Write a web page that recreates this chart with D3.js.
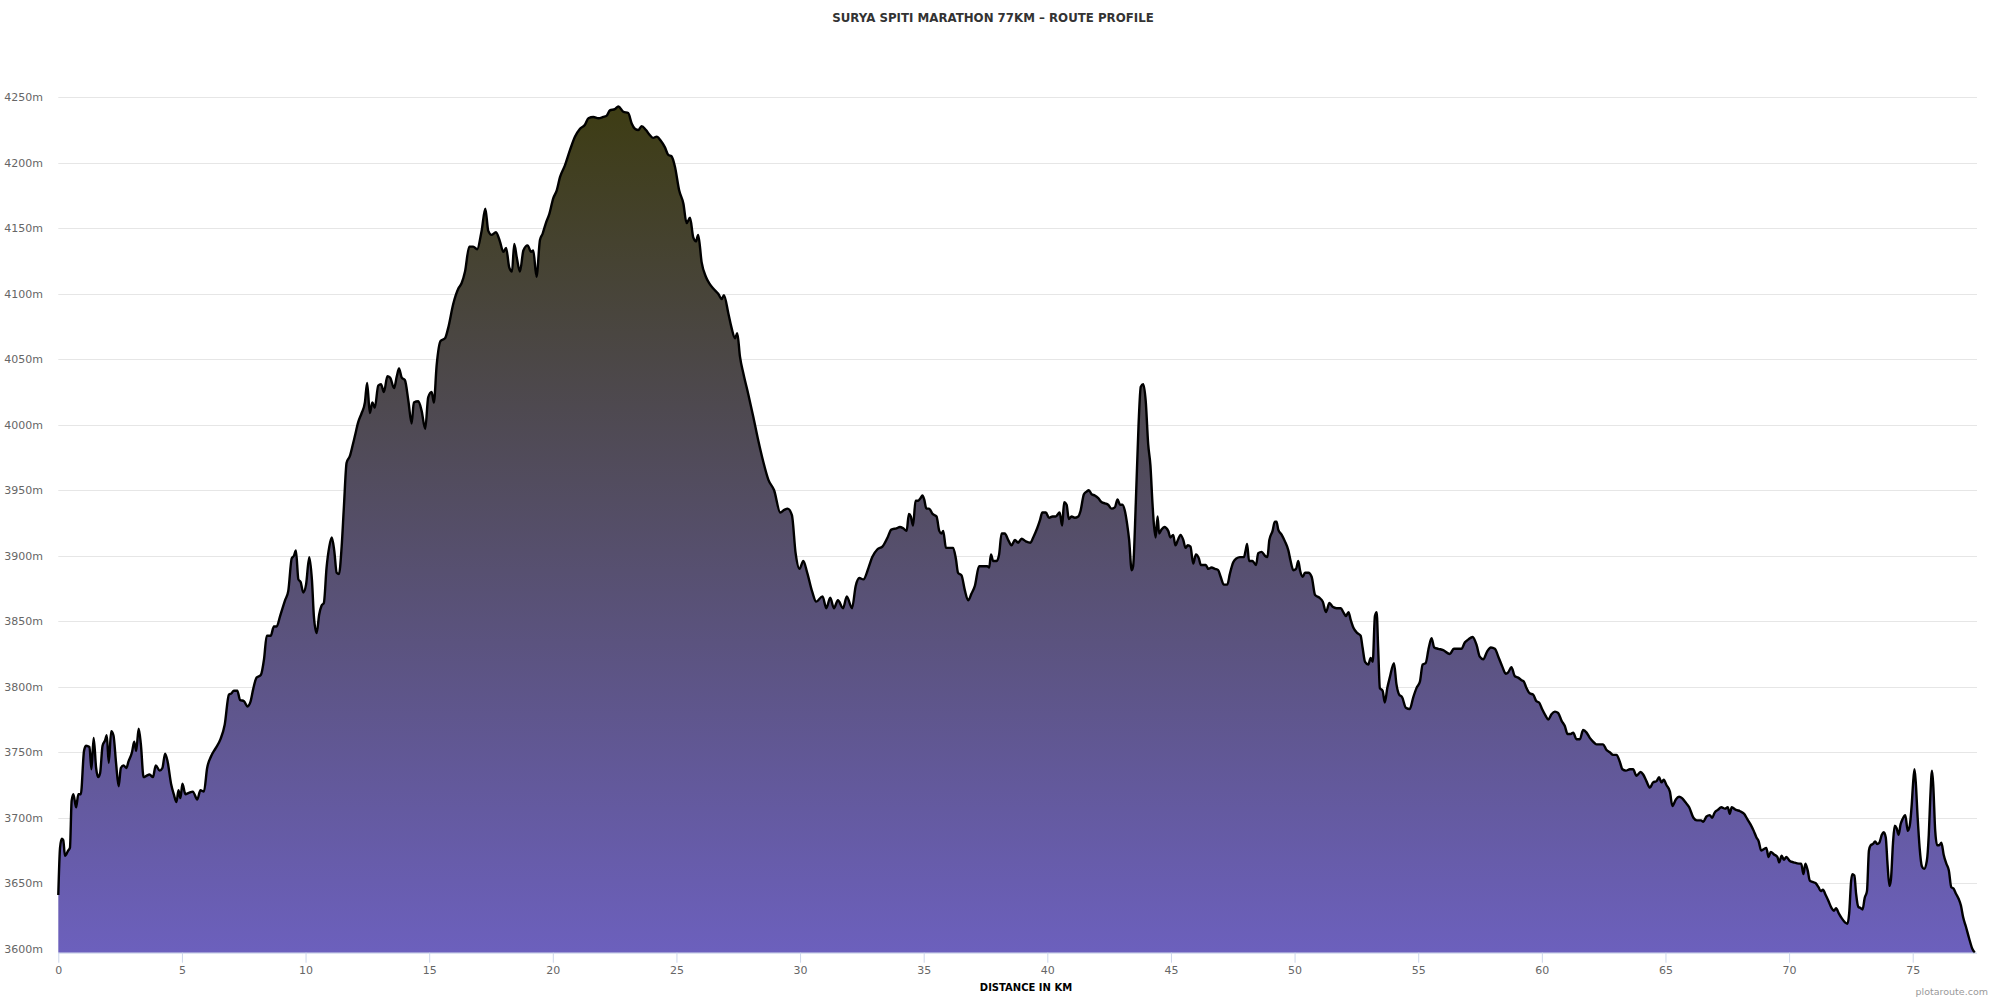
<!DOCTYPE html>
<html>
<head>
    <meta charset="utf-8">
    <style>
        body { margin: 0; background: #fff; }
        text { font-family: 'DejaVu Sans', sans-serif; }
    </style>
</head>
<body>
    <div id="chart"></div>
    <script src="https://cdn.jsdelivr.net/npm/d3@7"></script>
    <script>
        // route profile: distance (km) and elevation (m)
        var dist_km = [
            0, 0.07, 0.14, 0.2, 0.27, 0.4, 0.47, 0.54, 0.61, 0.72, 0.81, 0.91, 1.04, 1.12, 1.26, 1.34, 1.43, 1.53, 1.61, 1.69,
            1.79, 1.89, 1.96, 2.04, 2.14, 2.23, 2.34, 2.44, 2.53, 2.64, 2.75, 2.84, 2.98, 3.07, 3.15, 3.25, 3.34, 3.45, 3.56, 3.69,
            3.83, 3.94, 4.1, 4.21, 4.32, 4.42, 4.56, 4.67, 4.78, 4.86, 4.94, 5.02, 5.14, 5.28, 5.44, 5.62, 5.75, 5.89, 6.02, 6.18,
            6.36, 6.56, 6.73, 6.9, 7.0, 7.1, 7.24, 7.35, 7.51, 7.65, 7.78, 7.88, 8.02, 8.19, 8.32, 8.43, 8.59, 8.72, 8.83, 8.97,
            9.17, 9.3, 9.44, 9.53, 9.61, 9.71, 9.8, 9.91, 10.02, 10.15, 10.26, 10.34, 10.45, 10.55, 10.65, 10.74, 10.85, 10.96, 11.06, 11.16,
            11.26, 11.35, 11.46, 11.55, 11.66, 11.79, 11.9, 11.99, 12.13, 12.27, 12.4, 12.49, 12.6, 12.7, 12.8, 12.94, 13.05, 13.17, 13.31, 13.42,
            13.58, 13.69, 13.78, 13.89, 14.02, 14.16, 14.29, 14.38, 14.56, 14.69, 14.84, 14.96, 15.1, 15.19, 15.3, 15.46, 15.64, 15.77, 15.97, 16.18,
            16.31, 16.45, 16.62, 16.78, 16.94, 17.12, 17.27, 17.39, 17.52, 17.7, 17.86, 18.0, 18.11, 18.24, 18.35, 18.44, 18.54, 18.67, 18.81, 18.98,
            19.12, 19.21, 19.34, 19.48, 19.59, 19.72, 19.86, 20.02, 20.16, 20.29, 20.49, 20.7, 20.9, 21.1, 21.3, 21.44, 21.64, 21.84, 22.04, 22.18,
            22.31, 22.51, 22.65, 22.85, 23.05, 23.19, 23.32, 23.46, 23.59, 23.77, 23.93, 24.06, 24.2, 24.36, 24.53, 24.67, 24.8, 24.94, 25.11, 25.28,
            25.41, 25.55, 25.68, 25.79, 25.88, 26.02, 26.19, 26.33, 26.49, 26.69, 26.83, 26.92, 27.1, 27.23, 27.37, 27.46, 27.57, 27.71, 27.91, 28.11,
            28.31, 28.51, 28.72, 28.95, 29.2, 29.36, 29.5, 29.67, 29.82, 29.98, 30.13, 30.29, 30.5, 30.65, 30.91, 31.06, 31.22, 31.37, 31.53, 31.74,
            31.89, 32.1, 32.25, 32.4, 32.56, 32.77, 32.92, 33.13, 33.33, 33.54, 33.69, 33.9, 34.04, 34.17, 34.31, 34.4, 34.48, 34.57, 34.67, 34.78,
            34.87, 34.95, 35.02, 35.11, 35.22, 35.36, 35.52, 35.63, 35.72, 35.79, 35.9, 36.03, 36.19, 36.3, 36.39, 36.53, 36.66, 36.8, 36.93, 37.07,
            37.24, 37.41, 37.57, 37.65, 37.72, 37.81, 37.95, 38.05, 38.15, 38.28, 38.42, 38.55, 38.69, 38.82, 38.96, 39.13, 39.32, 39.43, 39.59, 39.7,
            39.8, 39.94, 40.07, 40.21, 40.34, 40.5, 40.6, 40.68, 40.78, 40.87, 40.98, 41.11, 41.25, 41.34, 41.48, 41.59, 41.68, 41.79, 41.92, 42.06,
            42.19, 42.33, 42.46, 42.6, 42.73, 42.84, 42.94, 43.04, 43.14, 43.23, 43.31, 43.41, 43.47, 43.58, 43.69, 43.78, 43.88, 43.98, 44.08, 44.17,
            44.25, 44.31, 44.38, 44.46, 44.52, 44.62, 44.73, 44.89, 44.98, 45.09, 45.18, 45.28, 45.39, 45.5, 45.59, 45.68, 45.79, 45.9, 46.01, 46.13,
            46.21, 46.3, 46.41, 46.51, 46.64, 46.78, 46.91, 47.01, 47.14, 47.28, 47.38, 47.52, 47.65, 47.79, 47.95, 48.02, 48.08, 48.16, 48.3, 48.44,
            48.53, 48.67, 48.8, 48.9, 48.98, 49.11, 49.2, 49.27, 49.34, 49.48, 49.61, 49.75, 49.84, 49.95, 50.06, 50.15, 50.22, 50.33, 50.42, 50.56,
            50.69, 50.83, 51.0, 51.14, 51.27, 51.41, 51.54, 51.7, 51.87, 51.97, 52.08, 52.18, 52.27, 52.38, 52.54, 52.67, 52.75, 52.85, 52.98, 53.08,
            53.16, 53.25, 53.32, 53.38, 53.45, 53.56, 53.65, 53.75, 53.85, 54.02, 54.12, 54.23, 54.35, 54.5, 54.66, 54.8, 54.93, 55.07, 55.18, 55.3,
            55.43, 55.54, 55.65, 55.81, 56.01, 56.28, 56.44, 56.62, 56.75, 56.89, 57.02, 57.2, 57.36, 57.49, 57.63, 57.79, 57.94, 58.1, 58.26, 58.41,
            58.54, 58.64, 58.77, 58.91, 59.04, 59.18, 59.27, 59.38, 59.51, 59.65, 59.78, 59.89, 60.01, 60.15, 60.26, 60.39, 60.53, 60.66, 60.8, 60.93,
            61.04, 61.17, 61.27, 61.4, 61.54, 61.67, 61.81, 61.94, 62.08, 62.21, 62.35, 62.48, 62.61, 62.75, 62.88, 63.02, 63.15, 63.26, 63.4, 63.56,
            63.69, 63.83, 63.99, 64.1, 64.23, 64.37, 64.5, 64.64, 64.74, 64.84, 64.93, 65.04, 65.18, 65.28, 65.42, 65.55, 65.67, 65.8, 65.96, 66.13,
            66.27, 66.44, 66.53, 66.66, 66.79, 66.89, 66.99, 67.12, 67.26, 67.41, 67.52, 67.6, 67.68, 67.85, 68.02, 68.18, 68.31, 68.44, 68.57, 68.68,
            68.77, 68.87, 68.97, 69.08, 69.17, 69.26, 69.39, 69.53, 69.6, 69.7, 69.79, 69.89, 70.03, 70.18, 70.4, 70.49, 70.58, 70.66, 70.75, 70.84,
            70.95, 71.08, 71.19, 71.28, 71.37, 71.48, 71.58, 71.72, 71.81, 71.9, 72.01, 72.14, 72.27, 72.36, 72.43, 72.51, 72.56, 72.64, 72.71, 72.8,
            72.9, 72.97, 73.06, 73.15, 73.23, 73.3, 73.39, 73.48, 73.56, 73.65, 73.75, 73.83, 73.91, 73.98, 74.06, 74.12, 74.2, 74.27, 74.35, 74.43,
            74.51, 74.59, 74.7, 74.8, 74.88, 74.96, 75.01, 75.07, 75.12, 75.2, 75.28, 75.37, 75.46, 75.57, 75.65, 75.71, 75.78, 75.83, 75.91, 75.99,
            76.07, 76.16, 76.25, 76.36, 76.46, 76.56, 76.65, 76.75, 76.86, 76.95, 77.04, 77.15, 77.28, 77.41, 77.51
        ];

        var elev_m = [
            3641, 3677, 3684, 3683, 3671, 3675, 3677, 3713, 3718, 3708, 3718, 3718, 3751, 3755, 3754, 3737, 3761, 3738, 3731, 3734,
            3755, 3759, 3763, 3742, 3766, 3763, 3741, 3724, 3738, 3740, 3738, 3743, 3750, 3758, 3751, 3768, 3756, 3731, 3732, 3733,
            3731, 3740, 3736, 3738, 3749, 3743, 3726, 3718, 3712, 3721, 3715, 3726, 3718, 3719, 3720, 3714, 3721, 3720, 3738, 3747,
            3753, 3760, 3771, 3794, 3795, 3797, 3797, 3790, 3789, 3785, 3789, 3798, 3807, 3809, 3821, 3839, 3839, 3846, 3846, 3854,
            3866, 3873, 3898, 3900, 3904, 3882, 3880, 3872, 3878, 3899, 3881, 3853, 3841, 3855, 3862, 3864, 3891, 3907, 3914, 3904,
            3887, 3886, 3907, 3937, 3971, 3976, 3984, 3991, 4002, 4009, 4017, 4032, 4009, 4017, 4013, 4030, 4031, 4025, 4037, 4036,
            4028, 4037, 4043, 4036, 4034, 4018, 4001, 4017, 4018, 4011, 3997, 4021, 4025, 4017, 4045, 4064, 4066, 4074, 4092, 4104,
            4108, 4117, 4136, 4136, 4134, 4148, 4165, 4148, 4145, 4147, 4140, 4132, 4135, 4120, 4117, 4138, 4128, 4117, 4133, 4137,
            4132, 4133, 4113, 4141, 4146, 4154, 4161, 4173, 4179, 4189, 4198, 4210, 4220, 4226, 4229, 4234, 4235, 4234, 4235, 4236,
            4240, 4241, 4243, 4239, 4238, 4230, 4226, 4225, 4228, 4225, 4221, 4219, 4220, 4217, 4212, 4206, 4205, 4197, 4179, 4169,
            4154, 4158, 4143, 4140, 4145, 4124, 4113, 4108, 4104, 4100, 4096, 4099, 4085, 4074, 4066, 4070, 4052, 4039, 4023, 4006,
            3988, 3972, 3958, 3950, 3933, 3935, 3936, 3931, 3902, 3890, 3896, 3887, 3872, 3865, 3869, 3860, 3868, 3860, 3866, 3860,
            3869, 3860, 3877, 3883, 3882, 3891, 3899, 3905, 3907, 3914, 3920, 3921, 3922, 3921, 3919, 3932, 3930, 3923, 3942, 3942,
            3944, 3946, 3943, 3936, 3936, 3932, 3930, 3919, 3917, 3919, 3906, 3906, 3906, 3898, 3887, 3885, 3874, 3866, 3871, 3877,
            3892, 3892, 3892, 3891, 3901, 3896, 3896, 3901, 3917, 3917, 3912, 3908, 3912, 3910, 3913, 3911, 3910, 3914, 3921, 3927,
            3933, 3933, 3929, 3930, 3930, 3933, 3923, 3941, 3939, 3928, 3930, 3929, 3930, 3934, 3947, 3949, 3950, 3947, 3946, 3944,
            3941, 3940, 3939, 3936, 3937, 3943, 3939, 3939, 3934, 3924, 3912, 3889, 3892, 3941, 4000, 4029, 4031, 4018, 3985, 3969,
            3941, 3924, 3914, 3930, 3917, 3920, 3922, 3919, 3914, 3916, 3908, 3912, 3916, 3912, 3906, 3908, 3907, 3894, 3901, 3898,
            3893, 3893, 3893, 3890, 3891, 3890, 3889, 3884, 3878, 3878, 3886, 3895, 3898, 3899, 3899, 3904, 3909, 3896, 3896, 3893,
            3902, 3903, 3900, 3899, 3912, 3919, 3926, 3926, 3920, 3916, 3911, 3904, 3896, 3889, 3890, 3896, 3889, 3884, 3887, 3887,
            3884, 3870, 3868, 3865, 3857, 3864, 3861, 3860, 3860, 3857, 3854, 3857, 3851, 3845, 3841, 3839, 3830, 3819, 3817, 3822,
            3819, 3854, 3857, 3830, 3799, 3797, 3788, 3799, 3807, 3818, 3802, 3794, 3792, 3784, 3783, 3792, 3799, 3804, 3817, 3818,
            3830, 3837, 3830, 3829, 3828, 3825, 3829, 3829, 3829, 3834, 3836, 3838, 3832, 3823, 3821, 3827, 3830, 3829, 3822, 3815,
            3810, 3811, 3815, 3808, 3807, 3805, 3804, 3799, 3795, 3794, 3789, 3788, 3783, 3778, 3775, 3779, 3781, 3780, 3774, 3770,
            3764, 3764, 3765, 3760, 3760, 3767, 3765, 3761, 3758, 3756, 3756, 3756, 3752, 3750, 3748, 3748, 3743, 3737, 3736, 3737,
            3737, 3732, 3735, 3733, 3728, 3723, 3727, 3728, 3731, 3727, 3729, 3725, 3720, 3709, 3714, 3716, 3715, 3712, 3708, 3700,
            3698, 3698, 3697, 3701, 3702, 3700, 3704, 3706, 3708, 3707, 3708, 3703, 3708, 3706, 3705, 3703, 3699, 3695, 3690, 3685,
            3682, 3675, 3676, 3677, 3670, 3674, 3672, 3670, 3666, 3671, 3668, 3670, 3667, 3666, 3665, 3665, 3657, 3665, 3660, 3652,
            3651, 3650, 3647, 3644, 3645, 3641, 3637, 3631, 3629, 3631, 3627, 3623, 3620, 3619, 3627, 3652, 3657, 3656, 3642, 3632,
            3631, 3630, 3639, 3644, 3675, 3679, 3680, 3682, 3680, 3681, 3687, 3689, 3685, 3665, 3648, 3653, 3680, 3694, 3692, 3687,
            3695, 3699, 3702, 3690, 3694, 3710, 3725, 3737, 3728, 3700, 3677, 3663, 3661, 3667, 3687, 3715, 3736, 3725, 3690, 3679,
            3679, 3681, 3672, 3665, 3660, 3647, 3646, 3642, 3638, 3633, 3624, 3617, 3608, 3600, 3597
        ];

        var x_ticks = [0, 5, 10, 15, 20, 25, 30, 35, 40, 45, 50, 55, 60, 65, 70, 75];
        var y_ticks = [3600, 3650, 3700, 3750, 3800, 3850, 3900, 3950, 4000, 4050, 4100, 4150, 4200, 4250];

        var chart_title = 'SURYA SPITI MARATHON 77KM – ROUTE PROFILE',
            x_title = 'DISTANCE IN KM',
            credit = 'plotaroute.com';

        var width = 2000,
            height = 1000,
            plot_left = 58.3,
            plot_right = 1977,
            plot_top = 97.3,
            plot_bottom = 952.7;

        var data = dist_km.map(function(d, i){ return {km: d, elev: elev_m[i]}; });

        var x_scale = d3.scaleLinear()
            .domain([0, 77.6])
            .range([plot_left, plot_right]);

        var y_scale = d3.scaleLinear()
            .domain([3597, 4250])
            .range([plot_bottom, plot_top]);

        var svg = d3.select('#chart')
            .append('svg')
            .attr('width', width)
            .attr('height', height)
            .style('display', 'block');

        svg.append('rect')
            .attr('width', width)
            .attr('height', height)
            .attr('fill', '#ffffff');

        // vertical colour fade of the area
        var grad = svg.append('defs')
            .append('linearGradient')
            .attr('id', 'fade')
            .attr('gradientUnits', 'userSpaceOnUse')
            .attr('x1', 0).attr('x2', 0)
            .attr('y1', plot_top).attr('y2', plot_bottom);
        grad.append('stop').attr('offset', 0).attr('stop-color', '#3d3c12');
        grad.append('stop').attr('offset', 1).attr('stop-color', '#6c60bd');

        // grid lines
        svg.append('g')
            .selectAll('line')
            .data(y_ticks.slice(1))
            .enter().append('line')
            .attr('x1', plot_left)
            .attr('x2', plot_right)
            .attr('y1', function(d){ return Math.round(y_scale(d)) + 0.5; })
            .attr('y2', function(d){ return Math.round(y_scale(d)) + 0.5; })
            .attr('stroke', '#e6e6e6')
            .attr('stroke-width', 1);

        // y labels
        svg.append('g')
            .selectAll('text')
            .data(y_ticks)
            .enter().append('text')
            .attr('x', 43)
            .attr('y', function(d){ return y_scale(d) + 4; })
            .attr('text-anchor', 'end')
            .attr('font-size', 11)
            .attr('fill', '#666666')
            .text(function(d){ return d + 'm'; });

        var area = d3.area()
            .x(function(d){ return x_scale(d.km); })
            .y0(plot_bottom)
            .y1(function(d){ return y_scale(d.elev); })
            .curve(d3.curveMonotoneX);

        var line = d3.line()
            .x(function(d){ return x_scale(d.km); })
            .y(function(d){ return y_scale(d.elev); })
            .curve(d3.curveMonotoneX);

        svg.append('path')
            .datum(data)
            .attr('d', area)
            .attr('fill', 'url(#fade)');

        svg.append('path')
            .datum(data)
            .attr('d', line)
            .attr('fill', 'none')
            .attr('stroke', '#000000')
            .attr('stroke-width', 2.4)
            .attr('stroke-linejoin', 'round');

        // x axis
        var x_axis = d3.axisBottom(x_scale)
            .tickValues(x_ticks)
            .tickSize(10)
            .tickPadding(4)
            .tickFormat(d3.format('d'));

        var xg = svg.append('g')
            .attr('transform', 'translate(0,' + plot_bottom + ')')
            .call(x_axis);
        xg.select('.domain')
            .attr('stroke', '#ccd6eb')
            .attr('d', 'M' + plot_left + ',0.5H' + plot_right);
        xg.selectAll('.tick line').attr('stroke', '#ccd6eb');
        xg.selectAll('.tick text')
            .attr('font-family', 'DejaVu Sans')
            .attr('font-size', 11)
            .attr('fill', '#666666');

        svg.append('text')
            .attr('x', 993)
            .attr('y', 22)
            .attr('text-anchor', 'middle')
            .attr('font-size', 11.8)
            .attr('font-weight', 'bold')
            .attr('fill', '#333333')
            .text(chart_title);

        svg.append('text')
            .attr('x', 1026)
            .attr('y', 991)
            .attr('text-anchor', 'middle')
            .attr('font-size', 10)
            .attr('font-weight', 'bold')
            .attr('fill', '#000000')
            .text(x_title);

        svg.append('text')
            .attr('x', 1988)
            .attr('y', 995)
            .attr('text-anchor', 'end')
            .attr('font-size', 9.5)
            .attr('fill', '#999999')
            .text(credit);
    </script>
</body>
</html>
